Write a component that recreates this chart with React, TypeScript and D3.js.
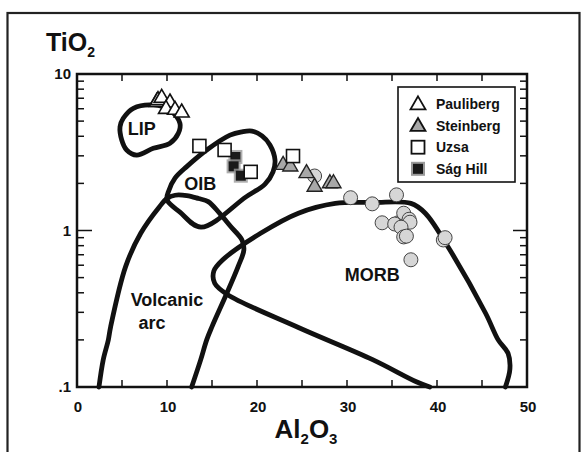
import React from "react";
import * as d3 from "d3";

// ---------- data ----------
const xTicks = [0, 10, 20, 30, 40, 50];
const xMinorTicks = [5, 10, 15, 20, 25, 30, 35, 40, 45];
const yTickLabels = [
  { v: 10, t: "10" },
  { v: 1, t: "1" },
  { v: 0.1, t: ".1" },
];

const paulibergAl = [8.86, 9.0, 9.41, 10.33, 9.89, 10.89, 11.63];
const paulibergTi = [6.62, 6.8, 7.03, 6.56, 5.97, 5.89, 5.66];

const steinbergAl = [22.9, 23.7, 25.5, 26.4, 28.1, 28.5];
const steinbergTi = [2.62, 2.56, 2.32, 1.9, 2.0, 2.0];

const uzsaAl = [13.6, 16.4, 19.3, 24.0];
const uzsaTi = [3.47, 3.27, 2.37, 2.99];

const sagAl = [17.6, 17.4, 18.2];
const sagTi = [2.95, 2.57, 2.24];

const circleAl = [26.4, 30.4, 32.8, 35.5, 33.9, 35.7, 35.3, 36.3, 36.9, 37.0, 36.0, 36.3, 36.6, 40.7, 40.9, 37.1];
const circleTi = [2.23, 1.62, 1.48, 1.69, 1.12, 1.12, 1.1, 1.29, 1.18, 1.13, 1.05, 0.91, 0.92, 0.87, 0.9, 0.65];

const lipField: [number, number][] = [
  [5.14, 5.21], [6.26, 6.04], [8.48, 6.34], [10.33, 5.89], [11.44, 4.84],
  [11.26, 4.18], [10.33, 3.61], [8.48, 3.35], [6.63, 3.03], [5.52, 3.27],
  [4.97, 3.79], [4.78, 4.6],
];

const oibField: [number, number][] = [
  [13.78, 1.05], [18.78, 1.64], [20.89, 1.98], [21.78, 2.37], [22.0, 2.82],
  [21.44, 3.52], [20.56, 4.02], [19.44, 4.32], [18.3, 4.27], [17.0, 4.07],
  [14.41, 3.27], [12.19, 2.56], [10.89, 2.16], [10.22, 1.81], [10.0, 1.57],
  [11.44, 1.31],
];

const arcField: [number, number][] = [
  [2.44, 0.1], [2.91, 0.149], [3.48, 0.2], [3.74, 0.243], [5.41, 0.59],
  [7.08, 0.96], [9.17, 1.42], [10.0, 1.6], [10.9, 1.68], [12.2, 1.67],
  [13.5, 1.6], [14.58, 1.53], [15.83, 1.29], [17.08, 1.06], [18.33, 0.87],
  [18.54, 0.75], [17.91, 0.59], [16.67, 0.4], [15.0, 0.243], [14.41, 0.2],
  [13.74, 0.149], [12.74, 0.1],
];

const morbField: [number, number][] = [
  [39.2, 0.1], [37.7, 0.108], [32.9, 0.149], [24.6, 0.24], [16.7, 0.39],
  [15.3, 0.46], [15.2, 0.55], [16.2, 0.65], [20.4, 0.96], [24.6, 1.29],
  [28.7, 1.49], [33.0, 1.51], [37.1, 1.49], [38.7, 1.29], [41.2, 0.79],
  [45.4, 0.296], [46.8, 0.2], [47.9, 0.164], [48.1, 0.13], [47.6, 0.1],
];

const fieldLabels = [
  { t: "LIP", x: 7.2, y: 4.45 },
  { t: "OIB", x: 13.7, y: 2.0 },
  { t: "MORB", x: 32.8, y: 0.52 },
];

const legendItems = ["Pauliberg", "Steinberg", "Uzsa", "Ság Hill"];

// ---------- layout ----------
const W = 584;
const H = 452;
const FONT = "'Liberation Sans', Arial, Helvetica, sans-serif";

const x = d3.scaleLinear().domain([0, 50]).range([77, 527]);
const y = d3.scaleLog().domain([0.1, 10]).range([387, 74]);

const lineOpen = d3
  .line<[number, number]>()
  .x((d) => x(d[0]))
  .y((d) => y(d[1]))
  .curve(d3.curveCatmullRom.alpha(0.5));
const lineClosed = d3
  .line<[number, number]>()
  .x((d) => x(d[0]))
  .y((d) => y(d[1]))
  .curve(d3.curveCatmullRomClosed.alpha(0.5));

function triPath(cx: number, cy: number, s: number) {
  const h = (s * Math.sqrt(3)) / 2;
  const top = cy - (2 * h) / 3;
  const bot = cy + h / 3;
  return `M${cx},${top}L${cx + s / 2},${bot}L${cx - s / 2},${bot}Z`;
}

export default function App() {
  const minorY: number[] = [];
  for (const dec of [0.1, 1]) {
    for (let k = 2; k <= 9; k++) minorY.push(dec * k);
  }
  const [x0, x1] = x.range();
  const [y0, y1] = [y(10), y(0.1)];

  return (
    <svg
      width={W}
      height={H}
      style={{ position: "absolute", left: 0, top: 0, background: "#fff" }}
      fontFamily={FONT}
    >
      <rect x={0} y={0} width={W} height={H} fill="#fff" />
      {/* outer frame */}
      <rect x={7.5} y={13} width={572} height={470} fill="none" stroke="#222" strokeWidth={2.2} />

      {/* fields */}
      <g fill="none" stroke="#111" strokeWidth={4.8} strokeLinejoin="round" strokeLinecap="round">
        <path d={lineOpen(arcField) || ""} />
        <path d={lineOpen(morbField) || ""} />
        <path d={lineClosed(oibField) || ""} />
        <path d={lineClosed(lipField) || ""} />
      </g>

      {/* field labels */}
      <g fontWeight="bold" fontSize={18} fill="#111" textAnchor="middle">
        {fieldLabels.map((f) => (
          <text key={f.t} x={x(f.x)} y={y(f.y)} dy="0.35em">
            {f.t}
          </text>
        ))}
        <text x={167} y={300} dy="0.35em">Volcanic</text>
        <text x={152} y={323} dy="0.35em">arc</text>
      </g>

      {/* circles */}
      <g fill="#d6d6d6" stroke="#444" strokeWidth={1}>
        {circleAl.map((a, i) => (
          <circle key={i} cx={x(a)} cy={y(circleTi[i])} r={7} />
        ))}
      </g>

      {/* Steinberg */}
      <g fill="#a8a8a8" stroke="#222" strokeWidth={1.4}>
        {steinbergAl.map((a, i) => (
          <path key={i} d={triPath(x(a), y(steinbergTi[i]), 15)} />
        ))}
      </g>

      {/* Pauliberg */}
      <g fill="#fff" stroke="#111" strokeWidth={1.6}>
        {paulibergAl.map((a, i) => (
          <path key={i} d={triPath(x(a), y(paulibergTi[i]), 15)} />
        ))}
      </g>

      {/* Sag Hill */}
      <g>
        {sagAl.map((a, i) => (
          <g key={i}>
            <rect x={x(a) - 7} y={y(sagTi[i]) - 7} width={14} height={14} fill="#9a9a9a" opacity={0.8} />
            <rect x={x(a) - 5} y={y(sagTi[i]) - 5} width={10} height={10} fill="#1a1a1a" />
          </g>
        ))}
      </g>

      {/* Uzsa */}
      <g fill="#fff" stroke="#111" strokeWidth={1.6}>
        {uzsaAl.map((a, i) => (
          <rect key={i} x={x(a) - 6.5} y={y(uzsaTi[i]) - 6.5} width={13} height={13} />
        ))}
      </g>

      {/* plot frame */}
      <rect x={x0} y={y0} width={x1 - x0} height={y1 - y0} fill="none" stroke="#111" strokeWidth={2.5} />

      {/* ticks (inward) */}
      <g stroke="#111" strokeWidth={1.5}>
        {xMinorTicks.map((t) => (
          <g key={t}>
            <line x1={x(t)} x2={x(t)} y1={y1} y2={y1 - 7} />
            <line x1={x(t)} x2={x(t)} y1={y0} y2={y0 + 7} />
          </g>
        ))}
        {minorY.map((t) => (
          <g key={t}>
            <line x1={x0} x2={x0 + 7} y1={y(t)} y2={y(t)} />
            <line x1={x1} x2={x1 - 7} y1={y(t)} y2={y(t)} />
          </g>
        ))}
        <line x1={x0} x2={x0 + 15} y1={y(1)} y2={y(1)} />
        <line x1={x1} x2={x1 - 14} y1={y(1)} y2={y(1)} />
      </g>

      {/* tick labels */}
      <g fontWeight="bold" fontSize={15} fill="#111">
        {xTicks.map((t) => (
          <text key={t} x={x(t) + 1} y={412} textAnchor="middle">
            {t}
          </text>
        ))}
        {yTickLabels.map((t) => (
          <text key={t.t} x={71} y={y(t.v)} dy="0.35em" textAnchor="end">
            {t.t}
          </text>
        ))}
      </g>

      {/* axis titles */}
      <text x={46} y={51} fontWeight="bold" fontSize={25} fill="#111">
        TiO<tspan fontSize={14} dy={6}>2</tspan>
      </text>
      <text x={306} y={438} fontWeight="bold" fontSize={26} fill="#111" textAnchor="middle">
        Al<tspan fontSize={15} dy={6}>2</tspan>
        <tspan dy={-6}>O</tspan>
        <tspan fontSize={15} dy={6}>3</tspan>
      </text>

      {/* legend */}
      <rect x={398} y={87} width={117} height={95} fill="#fff" stroke="#111" strokeWidth={1.6} />
      <g fontWeight="bold" fontSize={14} fill="#111">
        {legendItems.map((t, i) => {
          const cy = 104 + i * 21.6;
          let marker;
          if (i === 0) marker = <path d={triPath(418, cy + 1, 15)} fill="#fff" stroke="#111" strokeWidth={1.8} />;
          else if (i === 1) marker = <path d={triPath(418, cy + 1, 15)} fill="#a8a8a8" stroke="#111" strokeWidth={1.8} />;
          else if (i === 2) marker = <rect x={411.5} y={cy - 6.5} width={13} height={13} fill="#fff" stroke="#111" strokeWidth={1.8} />;
          else
            marker = (
              <g>
                <rect x={411} y={cy - 7} width={14} height={14} fill="#9a9a9a" />
                <rect x={413} y={cy - 5} width={10} height={10} fill="#1a1a1a" />
              </g>
            );
          return (
            <g key={t}>
              {marker}
              <text x={436} y={cy} dy="0.35em">
                {t}
              </text>
            </g>
          );
        })}
      </g>
    </svg>
  );
}
